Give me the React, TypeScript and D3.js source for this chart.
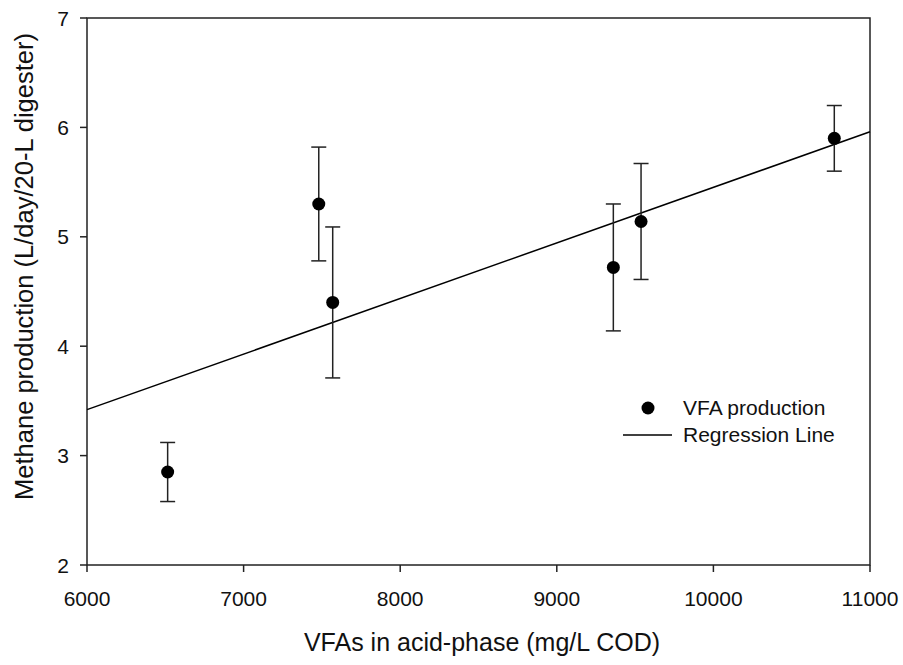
import React from "react";
import * as d3 from "d3";

const X_VALUES = [6515, 7480, 7569, 9361, 9538, 10772];
const Y_VALUES = [2.85, 5.3, 4.4, 4.72, 5.14, 5.9];
const Y_ERRORS = [0.27, 0.52, 0.69, 0.58, 0.53, 0.3];
const X_TICKS = [6000, 7000, 8000, 9000, 10000, 11000];
const Y_TICKS = [2, 3, 4, 5, 6, 7];
const REG_X = [6000, 11000];
const REG_Y = [3.42, 5.96];
const LEGEND_LABELS = ["VFA production", "Regression Line"];
const X_TITLE = "VFAs in acid-phase (mg/L COD)";
const Y_TITLE = "Methane production (L/day/20-L digester)";

const W = 903;
const H = 665;
const M = { left: 87, right: 870, top: 18, bottom: 565 };
const FONT = "'Liberation Sans', Arial, sans-serif";

export default function App() {
  const x = d3.scaleLinear().domain([6000, 11000]).range([M.left, M.right]);
  const y = d3.scaleLinear().domain([2, 7]).range([M.bottom, M.top]);
  const line = d3
    .line<number>()
    .x((_, i) => x(REG_X[i]))
    .y((d) => y(d));
  const axisColor = "#222";
  const cap = 7.5;

  return (
    <svg
      width={W}
      height={H}
      style={{ position: "absolute", left: 0, top: 0, background: "#fff" }}
      fontFamily={FONT}
    >
      <rect
        x={M.left}
        y={M.top}
        width={M.right - M.left}
        height={M.bottom - M.top}
        fill="none"
        stroke={axisColor}
        strokeWidth={1.5}
      />
      {X_TICKS.map((t) => (
        <g key={"x" + t}>
          <line x1={x(t)} x2={x(t)} y1={M.bottom} y2={M.bottom + 7} stroke={axisColor} strokeWidth={1.5} />
          <text x={x(t)} y={M.bottom + 41} textAnchor="middle" fontSize={21} fill="#111">
            {t}
          </text>
        </g>
      ))}
      {Y_TICKS.map((t) => (
        <g key={"y" + t}>
          <line x1={M.left - 7} x2={M.left} y1={y(t)} y2={y(t)} stroke={axisColor} strokeWidth={1.5} />
          <text x={69} y={y(t) + 7.5} textAnchor="end" fontSize={21} fill="#111">
            {t}
          </text>
        </g>
      ))}
      <text x={482} y={651} textAnchor="middle" fontSize={25} fill="#111">
        {X_TITLE}
      </text>
      <text
        transform={`translate(33, 266.5) rotate(-90)`}
        textAnchor="middle"
        fontSize={25.5}
        fill="#111"
      >
        {Y_TITLE}
      </text>
      <path d={line(REG_Y) || ""} fill="none" stroke="#000" strokeWidth={1.5} />
      {X_VALUES.map((xv, i) => {
        const cx = x(xv);
        const top = y(Y_VALUES[i] + Y_ERRORS[i]);
        const bot = y(Y_VALUES[i] - Y_ERRORS[i]);
        return (
          <g key={"e" + i} stroke="#222" strokeWidth={1.5}>
            <line x1={cx} x2={cx} y1={top} y2={bot} />
            <line x1={cx - cap} x2={cx + cap} y1={top} y2={top} />
            <line x1={cx - cap} x2={cx + cap} y1={bot} y2={bot} />
          </g>
        );
      })}
      {X_VALUES.map((xv, i) => (
        <circle key={"p" + i} cx={x(xv)} cy={y(Y_VALUES[i])} r={6.5} fill="#000" />
      ))}
      <circle cx={648} cy={408} r={6.5} fill="#000" />
      <text x={683} y={415} fontSize={21} fill="#111">
        {LEGEND_LABELS[0]}
      </text>
      <line x1={623} x2={672} y1={435} y2={435} stroke="#000" strokeWidth={1.5} />
      <text x={683} y={442} fontSize={21} fill="#111">
        {LEGEND_LABELS[1]}
      </text>
    </svg>
  );
}
